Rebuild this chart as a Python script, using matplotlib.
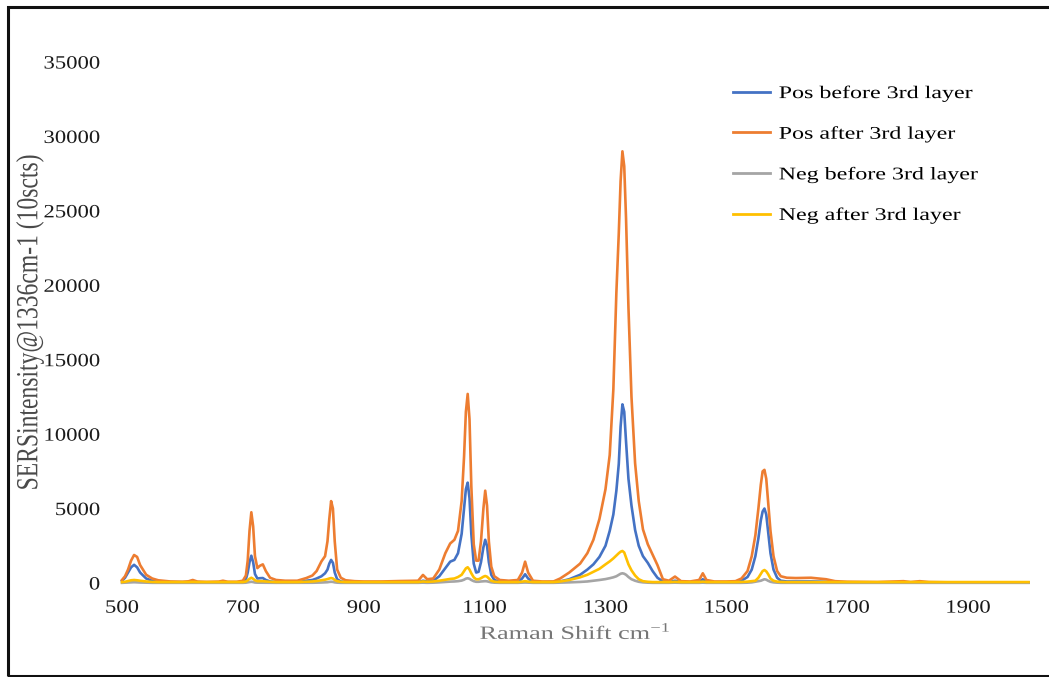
import matplotlib
matplotlib.use("Agg")
import matplotlib.pyplot as plt
from matplotlib.patches import Rectangle
from matplotlib.patheffects import AbstractPathEffect
from matplotlib.transforms import Affine2D

plt.rcParams["font.family"] = ["Liberation Serif", "DejaVu Serif"]
plt.rcParams["mathtext.fontset"] = "custom"
plt.rcParams["mathtext.rm"] = "Liberation Serif"

# Raman shift sample positions (cm-1) shared by all spectra
raman_shift = [
    500, 505, 510, 515, 520, 525, 530, 540, 550, 560, 580, 600, 610, 617, 625,
    640, 660, 667, 675, 690, 700, 705, 708, 711, 714, 717, 720, 724, 728, 733,
    738, 745, 755, 770, 790, 805, 815, 822, 830, 836, 840, 843, 846, 849, 852,
    856, 862, 870, 885, 900, 930, 960, 990, 998, 1005, 1015, 1025, 1035, 1043,
    1050, 1056, 1062, 1066, 1069, 1072, 1075, 1078, 1082, 1086, 1090, 1094,
    1098, 1101, 1104, 1107, 1111, 1116, 1125, 1140, 1155, 1162, 1167, 1172,
    1180, 1195, 1214, 1225, 1240, 1258, 1270, 1280, 1290, 1300, 1307, 1313,
    1318, 1322, 1325, 1328, 1331, 1334, 1338, 1343, 1349, 1355, 1362, 1370,
    1378, 1386, 1395, 1405, 1415, 1425, 1440, 1455, 1461, 1467, 1480, 1500,
    1515, 1525, 1535, 1542, 1548, 1553, 1557, 1560, 1563, 1566, 1569, 1573,
    1578, 1584, 1590, 1600, 1615, 1640, 1665, 1680, 1700, 1750, 1793, 1805,
    1820, 1835, 1870, 1920, 1960, 2000,
]

pos_before = [
    150, 350, 700, 1050, 1220, 1050, 700, 300, 150, 80, 50, 50, 50, 60, 50,
    40, 40, 50, 40, 40, 80, 250, 700, 1400, 1830, 1400, 600, 300, 320, 330,
    200, 100, 60, 50, 50, 150, 200, 300, 450, 650, 900, 1300, 1550, 1350, 700,
    250, 100, 60, 50, 40, 40, 50, 50, 150, 100, 150, 450, 1000, 1430,
    1550, 2000, 3300, 5000, 6300, 6740, 5700, 3300, 1300, 700, 750, 1400,
    2400, 2900, 2500, 1400, 550, 200, 80, 50, 50, 300, 585, 300,
    60, 40, 60, 100, 250, 550, 900, 1250, 1750, 2500, 3500, 4600,
    6200, 8000, 10500, 12000, 11500, 9500, 7000, 5200, 3560, 2500, 1800, 1350,
    800, 350, 100, 60, 150, 50, 40, 60, 250, 60, 40, 40,
    50, 150, 400, 900, 1800, 3000, 4200, 4800, 5000, 4600, 3500, 2000,
    900, 350, 150, 100, 100, 100, 80, 50, 40, 30, 40, 30,
    40, 30, 30, 30, 30, 30,
]

pos_after = [
    200, 450, 900, 1500, 1880, 1750, 1200, 550, 300, 180, 100, 80, 110, 200, 90,
    70, 90, 150, 80, 80, 150, 500, 1500, 3500, 4750, 3800, 1800, 1000, 1150, 1250,
    800, 350, 200, 150, 150, 330, 500, 800, 1450, 1800, 2800, 4300, 5500, 5000, 2800,
    900, 350, 180, 120, 100, 100, 130, 150, 540, 250, 300, 900, 2000, 2650,
    2900, 3500, 5500, 8500, 11500, 12700, 11000, 6500, 2600, 1500, 1500, 2800,
    5000, 6200, 5200, 2800, 1100, 450, 200, 150, 200, 700, 1430, 700,
    150, 100, 100, 300, 700, 1300, 2000, 2900, 4300, 6300, 8600, 13000,
    19500, 23500, 27000, 29000, 28000, 24500, 18500, 12500, 8040, 5500, 3600, 2600,
    1900, 1200, 250, 150, 430, 120, 100, 200, 650, 200, 100, 100,
    120, 300, 800, 1800, 3200, 5000, 6600, 7500, 7600, 7000, 5500, 3500,
    1800, 800, 450, 350, 330, 350, 250, 120, 80, 60, 120, 60,
    120, 60, 40, 30, 30, 30,
]

neg_before = [
    10, 20, 30, 40, 50, 40, 30, 20, 10, 10, 10, 10, 10, 10, 10,
    10, 10, 10, 10, 10, 10, 20, 40, 60, 80, 60, 30, 20, 20, 20,
    15, 10, 10, 10, 10, 10, 15, 20, 30, 40, 50, 70, 80, 70, 40,
    20, 10, 10, 10, 10, 10, 10, 10, 20, 10, 20, 40, 70, 90,
    100, 120, 160, 220, 290, 316, 280, 200, 120, 80, 80, 100,
    110, 120, 110, 80, 40, 20, 10, 10, 10, 20, 30, 20,
    10, 10, 10, 20, 40, 70, 100, 150, 200, 260, 320, 380,
    450, 550, 620, 650, 620, 550, 400, 250, 150, 80, 40, 20,
    10, 10, 10, 10, 20, 10, 10, 10, 20, 10, 10, 10,
    10, 10, 20, 40, 80, 120, 150, 200, 250, 220, 150, 80,
    40, 20, 10, 10, 10, 10, 10, 10, 10, 10, 10, 10,
    10, 10, 10, 10, 10, 10,
]

neg_after = [
    60, 80, 130, 180, 200, 180, 150, 100, 70, 60, 60, 60, 60, 70, 60,
    60, 60, 60, 60, 60, 60, 100, 180, 280, 350, 280, 180, 120, 120, 120,
    100, 80, 60, 60, 60, 80, 100, 130, 180, 220, 260, 300, 330, 300, 200,
    120, 80, 60, 60, 60, 60, 60, 60, 100, 80, 100, 150, 220, 270,
    300, 400, 550, 800, 980, 1055, 900, 650, 380, 250, 250, 320,
    420, 470, 420, 300, 150, 90, 60, 60, 60, 90, 120, 90,
    60, 60, 60, 100, 200, 380, 550, 750, 950, 1250, 1450, 1650,
    1850, 2000, 2100, 2150, 2050, 1700, 1250, 850, 500, 250, 120, 80,
    60, 60, 60, 60, 80, 60, 60, 60, 90, 60, 60, 60,
    60, 70, 90, 120, 150, 350, 600, 800, 870, 780, 600, 300,
    150, 90, 70, 60, 60, 60, 60, 60, 60, 60, 60, 60,
    60, 60, 60, 60, 60, 60,
]

series_labels = ["Pos before 3rd layer", "Pos after 3rd layer",
                 "Neg before 3rd layer", "Neg after 3rd layer"]
series_colors = ["#4472C4", "#ED7D31", "#A5A5A5", "#FFC000"]

y_ticks = [0, 5000, 10000, 15000, 20000, 25000, 30000, 35000]
x_ticks = [500, 700, 900, 1100, 1300, 1500, 1700, 1900]


class WideText(AbstractPathEffect):
    """Draw text widened horizontally (in display space) about an anchor edge."""

    def __init__(self, sx, anchor="center"):
        super().__init__()
        self.sx = sx
        self.anchor = anchor

    def draw_path(self, renderer, gc, tpath, affine, rgbFace=None):
        bb = tpath.get_extents(affine)
        x0 = {"left": bb.x0, "right": bb.x1,
              "center": 0.5 * (bb.x0 + bb.x1)}[self.anchor]
        t = affine + Affine2D().translate(-x0, 0).scale(self.sx, 1).translate(x0, 0)
        gc0 = renderer.new_gc()
        gc0.copy_properties(gc)
        gc0.set_linewidth(0)
        renderer.draw_path(gc0, tpath, t, rgbFace)
        gc0.restore()


fig = plt.figure(figsize=(10.49, 6.77), dpi=100)
ax = fig.add_axes([0.1163, 0.1389, 0.8642, 0.7695])

for ys, lab, col in zip([pos_before, pos_after, neg_before, neg_after],
                        series_labels, series_colors):
    ax.plot(raman_shift, ys, color=col, lw=1.9, label=lab, clip_on=False,
            solid_joinstyle="round")

ax.set_xlim(500, 2000)
ax.set_ylim(0, 35000)
ax.set_xticks(x_ticks)
ax.set_yticks(y_ticks)
ax.set_xticklabels([str(v) for v in x_ticks])
ax.set_yticklabels([str(v) for v in y_ticks])
ax.tick_params(axis="both", length=0, labelsize=13.5, labelcolor="#1a1a1a")
ax.tick_params(axis="y", pad=15.8)
ax.tick_params(axis="x", pad=12)
for s in ax.spines.values():
    s.set_visible(False)
for t in ax.get_yticklabels():
    t.set_path_effects([WideText(1.21, "right")])
for t in ax.get_xticklabels():
    t.set_path_effects([WideText(1.21, "center")])

ax.set_xlabel(r"Raman Shift cm$^{\mathrm{-1}}$", fontsize=13.5, color="#767676",
              labelpad=4)
ax.xaxis.label.set_path_effects([WideText(1.4, "center")])
ylab = fig.text(0.0286, 0.524, "SERSintensity@1336cm-1 (10scts)", rotation=90,
                ha="center", va="center", fontsize=17, color="#4a4a4a")
ylab.set_path_effects([WideText(1.3, "center")])

leg = ax.legend(loc="upper left", bbox_to_anchor=(733 / 1049, 1 - 84.2 / 677),
                bbox_transform=fig.transFigure, frameon=False, fontsize=12.8,
                handlelength=2.08, handletextpad=0.5, labelspacing=1.28,
                borderpad=0, borderaxespad=0)
for h in leg.get_lines():
    h.set_linewidth(2.0)
for t in leg.get_texts():
    t.set_path_effects([WideText(1.35, "left")])

fig.patches.append(Rectangle((8 / 1049, 1 / 677), 1.1, 669 / 677,
                             transform=fig.transFigure, fill=False,
                             edgecolor="#111111", lw=2.2, clip_on=False))

fig.savefig("out.png", dpi=100)
